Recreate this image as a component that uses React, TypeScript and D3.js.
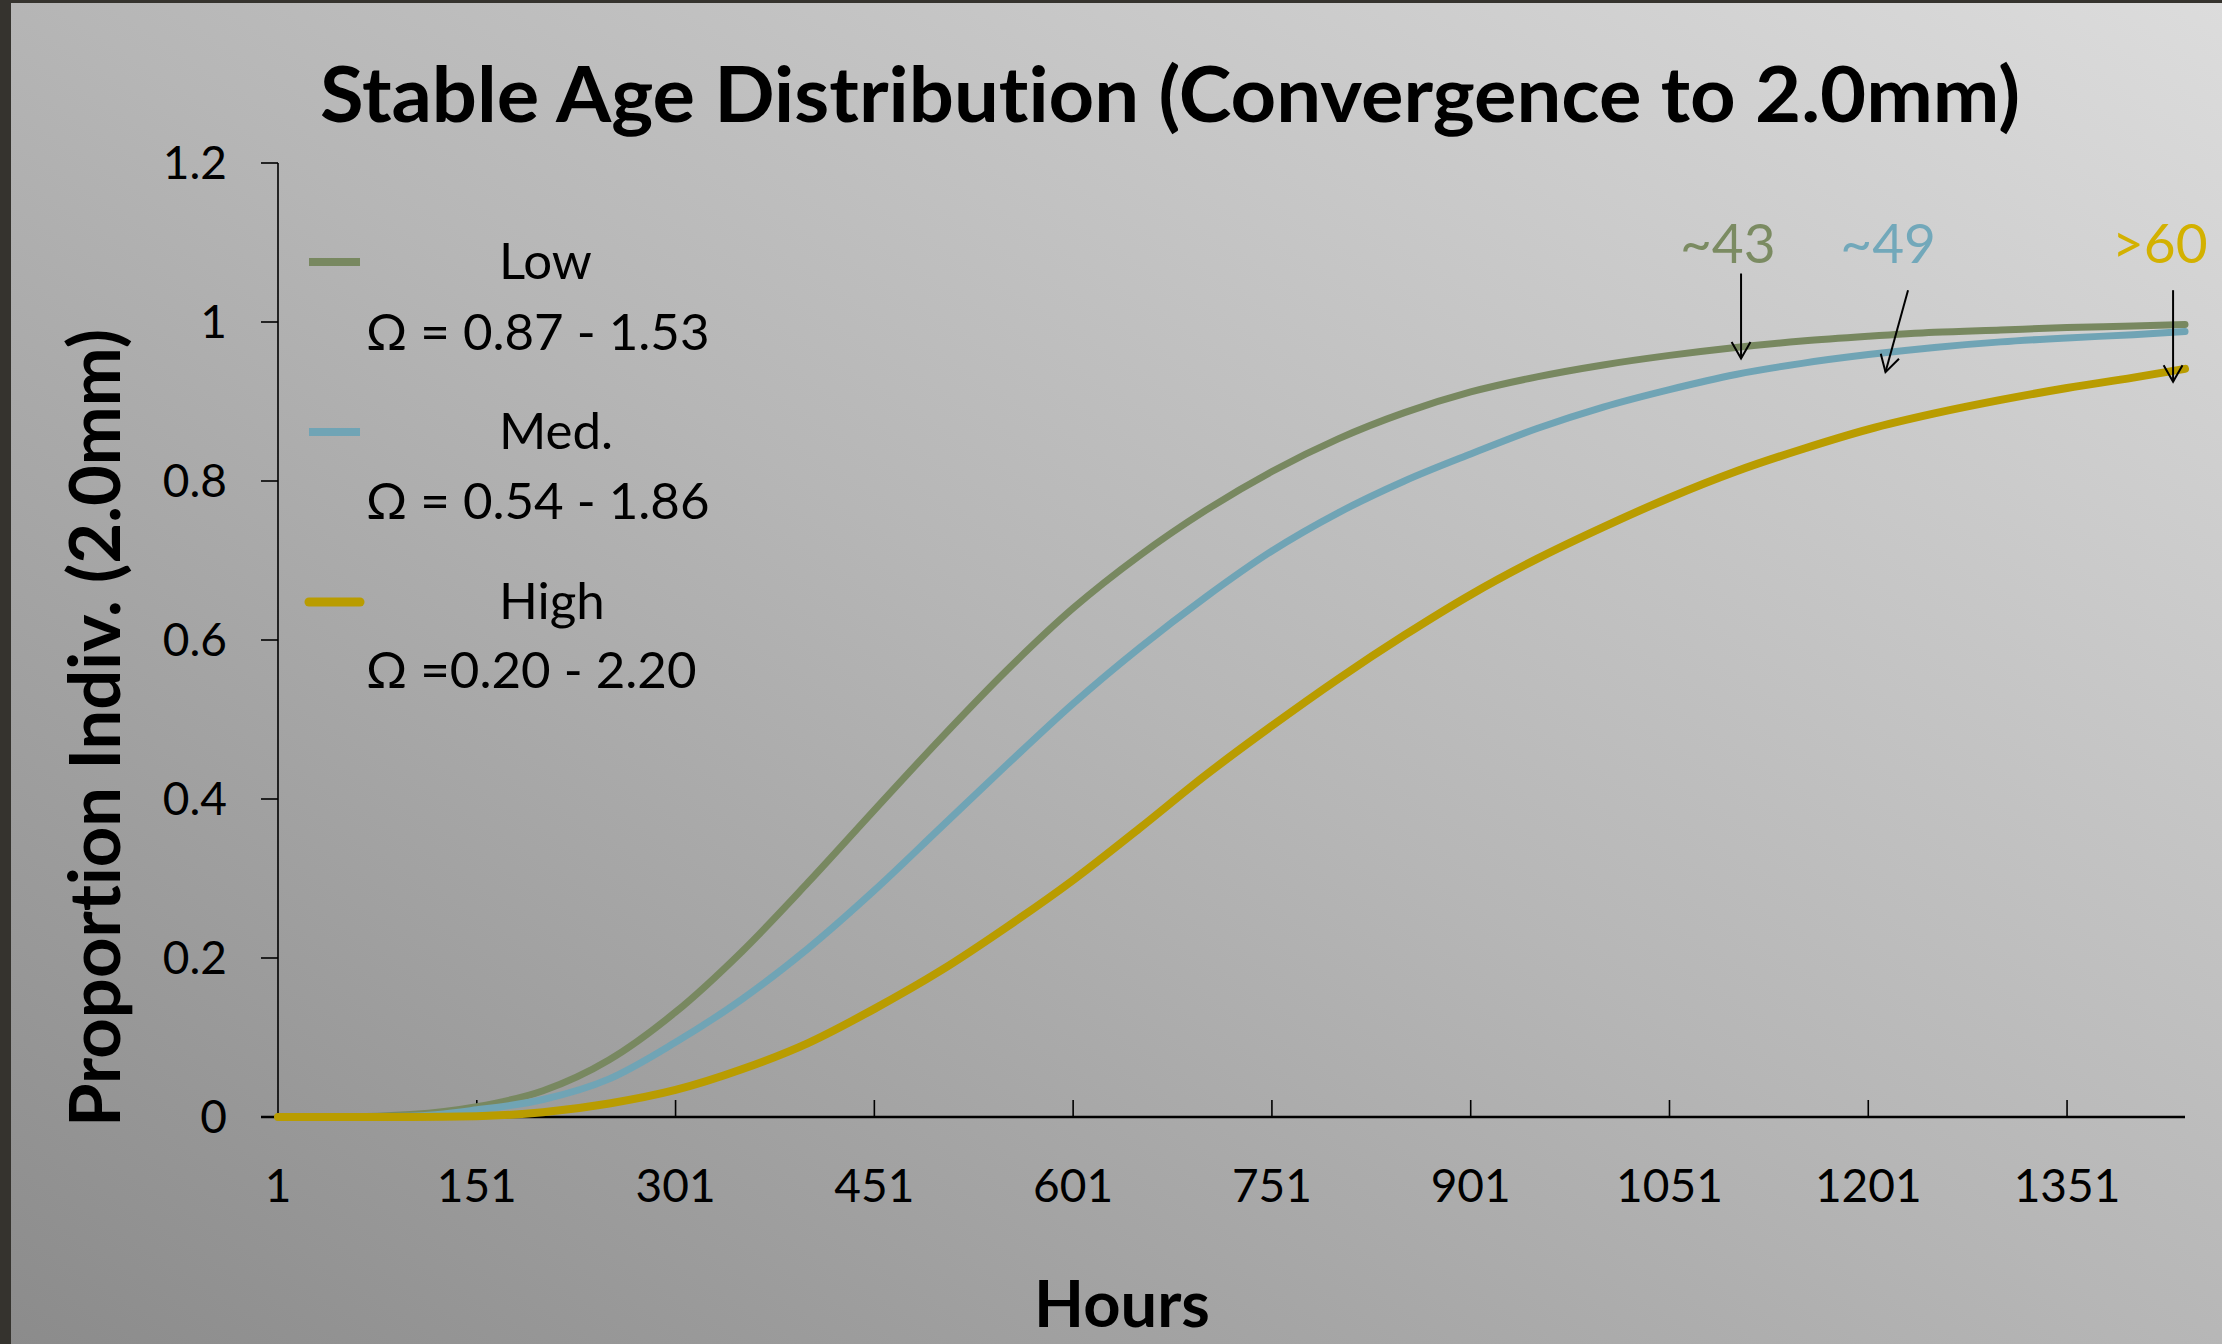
import React, { useEffect } from "react";
import * as d3 from "d3";

const hours = [1, 51, 101, 151, 201, 251, 301, 351, 401, 451, 501, 551, 601, 651, 701, 751, 801, 851, 901, 951, 1001, 1051, 1101, 1151, 1201, 1251, 1301, 1351, 1401, 1440];
const lowValues = [0, 0, 0.003, 0.013, 0.033, 0.072, 0.132, 0.208, 0.295, 0.386, 0.476, 0.562, 0.64, 0.706, 0.763, 0.812, 0.853, 0.886, 0.912, 0.931, 0.946, 0.958, 0.968, 0.976, 0.982, 0.987, 0.99, 0.993, 0.995, 0.997];
const medValues = [0, 0, 0.001, 0.009, 0.022, 0.048, 0.094, 0.148, 0.212, 0.285, 0.364, 0.443, 0.52, 0.59, 0.654, 0.712, 0.76, 0.8, 0.834, 0.866, 0.893, 0.915, 0.934, 0.948, 0.959, 0.968, 0.975, 0.98, 0.984, 0.988];
const highValues = [0, 0, 0, 0.001, 0.006, 0.017, 0.034, 0.06, 0.093, 0.136, 0.184, 0.239, 0.298, 0.363, 0.43, 0.492, 0.551, 0.606, 0.657, 0.702, 0.742, 0.779, 0.812, 0.84, 0.865, 0.885, 0.902, 0.917, 0.93, 0.941];

const xTicks = [1, 151, 301, 451, 601, 751, 901, 1051, 1201, 1351];
const yTicks = [0, 0.2, 0.4, 0.6, 0.8, 1, 1.2];

const seriesNames = ["Low", "Med.", "High"];
const seriesRanges = ["\u03A9 = 0.87 - 1.53", "\u03A9 = 0.54 - 1.86", "\u03A9 =0.20 - 2.20"];
const seriesColors = ["#788860", "#70a4b5", "#b99c00"];

const annotationLabels = ["~43", "~49", ">60"];
const annotationColors = ["#7b8b62", "#72a8ba", "#d3b100"];
const annotationTextHours = [1095, 1216, 1421];
const annotationArrowFromHours = [1105, 1231, 1431];
const annotationArrowFromValues = [1.061, 1.04, 1.04];
const annotationArrowToHours = [1105, 1214, 1431];
const annotationArrowToValues = [0.954, 0.937, 0.925];

const W = 2222;
const H = 1344;
const FONT = "Lato, 'Open Sans', sans-serif";

export default function App() {
  useEffect(() => {
    document.body.style.margin = "0";
    document.body.style.overflow = "hidden";
  }, []);

  const x = d3.scaleLinear().domain([1, 1440]).range([278, 2185]);
  const y = d3.scaleLinear().domain([0, 1.2]).range([1117, 163]);

  const line = d3
    .line<[number, number]>()
    .x((d) => x(d[0]))
    .y((d) => y(d[1]))
    .curve(d3.curveMonotoneX);

  const series = [lowValues, medValues, highValues];
  const widths = [7, 7, 8];

  const arrowHead = (x1: number, y1: number, x2: number, y2: number) => {
    const ang = Math.atan2(y2 - y1, x2 - x1);
    const len = 19;
    const spread = 0.52;
    const a1 = ang + Math.PI - spread;
    const a2 = ang + Math.PI + spread;
    return `M${x2 + len * Math.cos(a1)},${y2 + len * Math.sin(a1)} L${x2},${y2} L${x2 + len * Math.cos(a2)},${y2 + len * Math.sin(a2)}`;
  };

  return (
    <svg
      width={W}
      height={H}
      style={{ position: "absolute", left: 0, top: 0, display: "block", fontVariantLigatures: "none" }}
      fontFamily={FONT}
    >
      <defs>
        <linearGradient id="bg" gradientUnits="userSpaceOnUse" x1={0} y1={1344} x2={1240} y2={-621}>
          <stop offset="0" stopColor="#8b8b8b" />
          <stop offset="0.5" stopColor="#b6b6b6" />
          <stop offset="1" stopColor="#dcdcdc" />
        </linearGradient>
      </defs>
      <rect x={0} y={0} width={W} height={H} fill="url(#bg)" />
      <rect x={0} y={0} width={11} height={H} fill="#35332e" />
      <rect x={0} y={0} width={W} height={3} fill="#35332e" />

      {/* Title */}
      <text x={320} y={122} fontSize={76} fontWeight={700} textLength={1700} lengthAdjust="spacingAndGlyphs" fill="#000">
        Stable Age Distribution (Convergence to 2.0mm)
      </text>

      {/* Y axis */}
      <line x1={x(1)} x2={x(1)} y1={y(1.2)} y2={y(0)} stroke="#000" strokeWidth={1.6} />
      {yTicks.map((t) => (
        <g key={"yt" + t}>
          <line x1={x(1) - 17} x2={x(1)} y1={y(t)} y2={y(t)} stroke="#000" strokeWidth={1.6} />
          <text x={227} y={y(t) + 16} textAnchor="end" fontSize={46} fill="#000">
            {String(t)}
          </text>
        </g>
      ))}

      {/* X axis */}
      <line x1={x(1) - 17} x2={x(1440)} y1={y(0)} y2={y(0)} stroke="#000" strokeWidth={2.6} />
      {xTicks.map((t) => (
        <g key={"xt" + t}>
          {t !== 1 && <line x1={x(t)} x2={x(t)} y1={y(0)} y2={y(0) - 17} stroke="#000" strokeWidth={1.6} />}
          <text x={x(t)} y={1202} textAnchor="middle" fontSize={46} fill="#000">
            {String(t)}
          </text>
        </g>
      ))}

      {/* Axis titles */}
      <text x={1122} y={1327} textAnchor="middle" fontSize={65} fontWeight={700} fill="#000">
        Hours
      </text>
      <text
        transform="translate(120,728) rotate(-90)"
        x={0}
        y={0}
        textAnchor="middle"
        fontSize={70}
        fontWeight={700}
        textLength={798}
        lengthAdjust="spacingAndGlyphs"
        fill="#000"
      >
        Proportion Indiv. (2.0mm)
      </text>

      {/* Series */}
      {series.map((vals, i) => (
        <path
          key={"s" + i}
          d={line(hours.map((h, j) => [h, vals[j]] as [number, number])) || ""}
          fill="none"
          stroke={seriesColors[i]}
          strokeWidth={widths[i]}
          strokeLinejoin="round"
          strokeLinecap="round"
        />
      ))}

      {/* Legend */}
      {seriesNames.map((name, i) => (
        <g key={"lg" + i}>
          <line
            x1={309}
            x2={360}
            y1={262 + i * 170}
            y2={262 + i * 170}
            stroke={seriesColors[i]}
            strokeWidth={i === 2 ? 9 : 8}
            strokeLinecap={i === 2 ? "round" : "butt"}
          />
          <text x={499} y={279 + i * 170} fontSize={51} fill="#000">
            {name}
          </text>
          <text x={366} y={350 + i * 169} fontSize={51} fill="#000">
            {seriesRanges[i]}
          </text>
        </g>
      ))}

      {/* Annotations */}
      {annotationLabels.map((lab, i) => {
        const x1 = x(annotationArrowFromHours[i]);
        const y1 = y(annotationArrowFromValues[i]);
        const x2 = x(annotationArrowToHours[i]);
        const y2 = y(annotationArrowToValues[i]);
        return (
          <g key={"an" + i}>
            <text x={x(annotationTextHours[i])} y={263} textAnchor="middle" fontSize={55} fill={annotationColors[i]}>
              {lab}
            </text>
            <line x1={x1} y1={y1} x2={x2} y2={y2} stroke="#000" strokeWidth={2} />
            <path d={arrowHead(x1, y1, x2, y2)} fill="none" stroke="#000" strokeWidth={2} />
          </g>
        );
      })}
    </svg>
  );
}
